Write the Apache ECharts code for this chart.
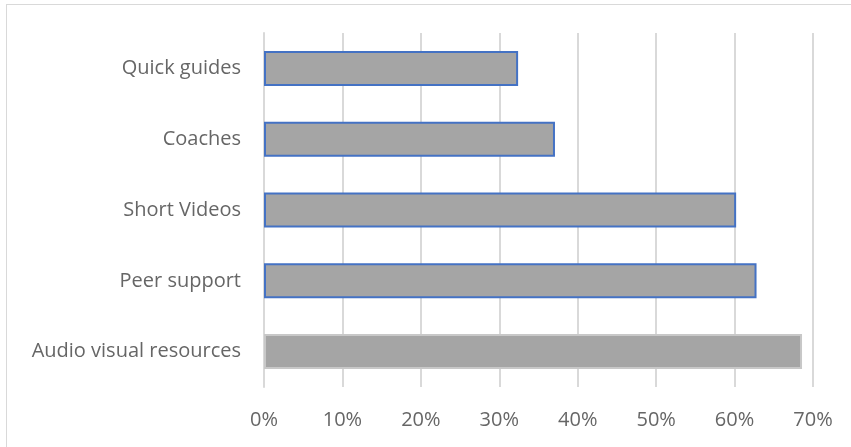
<!DOCTYPE html>
<html>
<head>
<meta charset="utf-8">
<script src="https://cdn.jsdelivr.net/npm/echarts@6/dist/echarts.min.js"></script>
<style>
  html, body { margin: 0; padding: 0; background: #ffffff; overflow: hidden; }
  #frame { position: absolute; left: 6px; top: 4px; width: 900px; height: 500px; border: 1px solid #d9d9d9; box-sizing: border-box; }
  #chart { position: absolute; left: 0; top: 0; width: 851px; height: 447px; }
</style>
</head>
<body>
<div id="frame"></div>
<div id="chart"></div>
<script>
// Support resources, share of respondents (bottom to top)
const categories = ['Audio visual resources', 'Peer support', 'Short Videos', 'Coaches', 'Quick guides'];
const shares = [68.6, 62.8, 60.2, 37.1, 32.4];
const tickValues = [0, 10, 20, 30, 40, 50, 60, 70];

const textColor = '#666666';
const fontFamily = '"Open Sans", "Liberation Sans", sans-serif';

const chart = echarts.init(document.getElementById('chart'), null, { renderer: 'canvas' });

const barData = shares.map((v, i) => ({
  value: v,
  itemStyle: {
    color: '#a5a5a5',
    borderColor: i === 0 ? '#c8c8c8' : '#4472c4',
    borderWidth: 2
  }
}));

chart.setOption({
  animation: false,
  grid: { left: 264, right: 38, top: 33, bottom: 60, containLabel: false },
  xAxis: {
    type: 'value',
    min: 0,
    max: 70,
    interval: 10,
    axisLine: { show: false },
    axisTick: { show: false },
    splitLine: { show: true, lineStyle: { color: '#d9d9d9', width: 2 } },
    axisLabel: {
      color: textColor,
      fontSize: 20,
      fontFamily: fontFamily,
      margin: 23,
      formatter: v => tickValues.includes(v) ? v + '%' : ''
    }
  },
  yAxis: {
    type: 'category',
    data: categories,
    axisLine: { show: true, lineStyle: { color: '#d9d9d9', width: 2 } },
    axisTick: { show: false },
    axisLabel: {
      color: textColor,
      fontSize: 20,
      fontFamily: fontFamily,
      margin: 23
    }
  },
  series: [{
    type: 'bar',
    data: barData,
    barWidth: 35
  }]
});
</script>
</body>
</html>
